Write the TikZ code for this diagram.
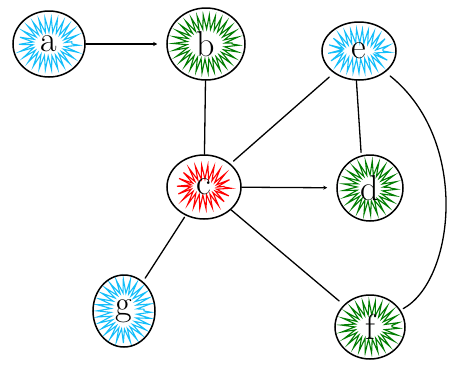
\documentclass[tikz,border=0pt]{standalone}
\usetikzlibrary{shapes.geometric,decorations.pathmorphing,arrows.meta}
\definecolor{sky}{RGB}{20,190,250}
\definecolor{leaf}{RGB}{0,125,0}
\definecolor{hot}{RGB}{255,0,0}
\tikzset{
  vert/.style={draw=black, line width=1.5pt, ellipse, inner sep=0pt,
    font=\fontsize{36}{38}\selectfont},
  scrib/.style={line width=1.1pt, decorate,
    decoration={zigzag, segment length=5pt, amplitude=7pt}},
  link/.style={line width=1.3pt, line cap=round},
  arr/.style={link, -{Stealth[length=4pt,width=4pt]}, shorten >=9pt}
}
\begin{document}
\begin{tikzpicture}[x=1pt,y=-1pt]
\useasboundingbox (0,0) rectangle (459,370);
% scribble fills
\draw[scrib, sky] (49,44) ellipse [x radius=23, y radius=19];
\draw[scrib, leaf] (206,44) ellipse [x radius=26, y radius=22];
\draw[scrib, sky] (359,51) ellipse [x radius=24, y radius=15];
\draw[scrib, hot] (204,187) ellipse [x radius=20, y radius=15];
\draw[scrib, leaf] (370,188) ellipse [x radius=20, y radius=20];
\draw[scrib, sky] (124,311) ellipse [x radius=20, y radius=25];
\draw[scrib, leaf] (370,327) ellipse [x radius=22, y radius=19];
% nodes
\node[vert, minimum width=72, minimum height=66] (a) at (49,44) {a};
\node[vert, minimum width=78, minimum height=72] (b) at (206,44) {b};
\node[vert, minimum width=74, minimum height=58] (e) at (359,51) {e};
\node[vert, minimum width=74, minimum height=64] (c) at (204,187) {c};
\node[vert, minimum width=66, minimum height=66] (d) at (370,188) {d};
\node[vert, minimum width=62, minimum height=72] (g) at (124,311) {g};
\node[vert, minimum width=70, minimum height=64] (f) at (370,327) {f};
% edges
\draw[arr] (a) -- (b);
\draw[link] (b) -- (c);
\draw[link, shorten <=4pt, shorten >=6pt] (c) -- (e);
\draw[link, shorten >=3pt] (e.265) -- (d.105);
\draw[arr] (c) -- (d);
\draw[link, shorten <=2pt, shorten >=4pt] (c) -- (g);
\draw[link, shorten >=6pt] (c) -- (f);
\draw[link, shorten <=3pt, shorten >=6pt] (f) .. controls (455,280) and (470,140) .. (e);
\end{tikzpicture}
\end{document}
